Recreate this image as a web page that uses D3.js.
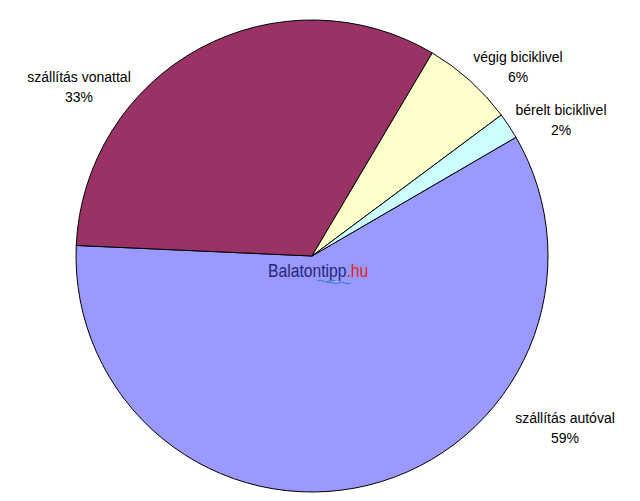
<!DOCTYPE html>
<html><head><meta charset="utf-8">
<script src="https://cdn.jsdelivr.net/npm/d3@7"></script>
<style>body{margin:0;background:#fff}svg{display:block}</style>
</head><body>
<svg id="c" width="640" height="501"></svg>
<script>
const categories = ["szállítás autóval", "szállítás vonattal", "végig biciklivel", "bérelt biciklivel"];
const values = [59.1, 32.8, 6.3, 1.8];
const percentLabels = ["59%", "33%", "6%", "2%"];
const colors = ["#9999FF", "#993366", "#FFFFCC", "#CCFFFF"];

const svg = d3.select("#c");
const cx = 312, cy = 256, r = 236;
const start = 59.8 * Math.PI / 180;
const pie = d3.pie().sort(null).startAngle(start).endAngle(start + 2 * Math.PI);
const arc = d3.arc().innerRadius(0).outerRadius(r);
const arcs = pie(values);
const g = svg.append("g").attr("transform", `translate(${cx},${cy})`);
g.selectAll("path").data(arcs).join("path")
  .attr("d", arc)
  .attr("fill", (d, i) => colors[i])
  .attr("stroke", "#000").attr("stroke-width", 1);

// label positions (center x, baseline of first line)
const labelPos = [[565, 423], [79, 82], [518, 62], [561, 115]];
const lab = svg.append("g").attr("font-family", "Liberation Sans, Arial, sans-serif")
  .attr("font-size", 14).attr("fill", "#000").attr("text-anchor", "middle");
categories.forEach((c, i) => {
  const t = lab.append("text").attr("x", labelPos[i][0]).attr("y", labelPos[i][1]);
  t.append("tspan").attr("x", labelPos[i][0]).text(c);
  t.append("tspan").attr("x", labelPos[i][0]).attr("dy", 20).text(percentLabels[i]);
});

// watermark
const wm = svg.append("g").attr("transform", "translate(268,277) scale(1,1.2)")
  .append("text").attr("x", 0).attr("y", 0)
  .attr("font-family", "Liberation Sans, Arial, sans-serif")
  .attr("font-size", 15.7);
wm.append("tspan").attr("fill", "#26267A").text("Balatontipp");
wm.append("tspan").attr("fill", "#E0261A").text(".hu");
svg.append("path")
  .attr("d", "M317,281 q3,-2 6,0 t6,0 t6,0 M327,283 q3,-2 6,0 t6,0 t6,0 t6,0")
  .attr("fill", "none").attr("stroke", "#2E7FD0").attr("stroke-width", 1);
</script>
</body></html>
